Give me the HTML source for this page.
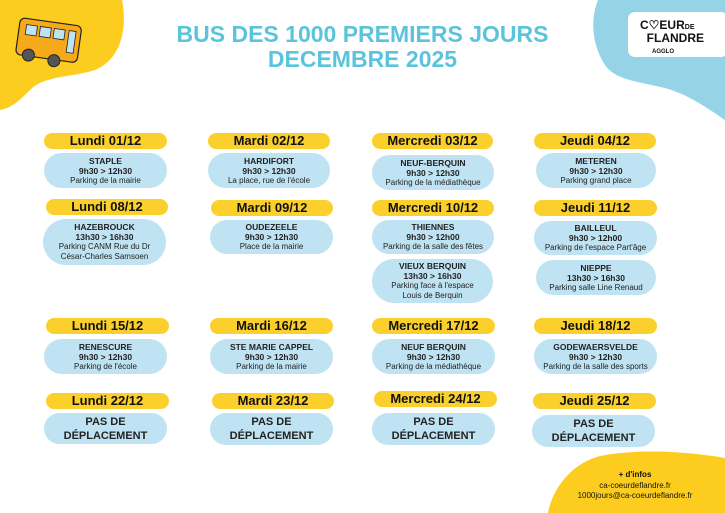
<!DOCTYPE html>
<html><head><meta charset="utf-8"><style>
body{margin:0;width:725px;height:513px;overflow:hidden;background:#fff;position:relative;font-family:"Liberation Sans",sans-serif;}
.a{position:absolute;}
.h{position:absolute;height:16px;background:#fcd02c;border-radius:8px;text-align:center;font-weight:bold;font-size:13px;line-height:16px;color:#111;}
.c{position:absolute;background:#bfe3f2;border-radius:18px;text-align:center;font-size:8px;line-height:10px;color:#222;display:flex;flex-direction:column;justify-content:center;}
.c b{font-size:8.5px;}
.p{font-weight:bold;font-size:11px;line-height:14px;}
</style></head><body>
<svg class="a" style="left:0;top:0" width="725" height="513">
<path d="M0,0 H122 C128,30 120,60 95,70 C70,78 45,75 30,90 C20,100 12,108 0,110 Z" fill="#fccd1f"/>
<path d="M598,0 H725 V120 C710,110 690,95 665,88 C640,82 615,80 605,65 C592,45 590,20 598,0 Z" fill="#95d3e6"/>
<path d="M725,458 C690,452 640,448 600,456 C570,464 552,490 548,513 H725 Z" fill="#fccd1f"/>
<rect x="628" y="12" width="100" height="45" rx="7" fill="#fff"/>
<g transform="rotate(8 50 45)">
<rect x="17" y="22" width="62" height="37" rx="5" fill="#f6a919" stroke="#222" stroke-width="1.2"/>
<rect x="24" y="28" width="11" height="10" fill="#bfe3f2" stroke="#222" stroke-width="0.8"/>
<rect x="38" y="28" width="11" height="10" fill="#bfe3f2" stroke="#222" stroke-width="0.8"/>
<rect x="52" y="28" width="11" height="10" fill="#bfe3f2" stroke="#222" stroke-width="0.8"/>
<rect x="67" y="28" width="7" height="22" fill="#bfe3f2" stroke="#222" stroke-width="0.8"/>
<circle cx="30" cy="58" r="6" fill="#555" stroke="#222"/><circle cx="56" cy="60" r="6" fill="#555" stroke="#222"/>
</g>
</svg>
<div class="a" style="left:0;top:22px;width:725px;text-align:center;color:#5bc4dc;font-weight:bold;font-size:23px;line-height:25px;">BUS DES 1000 PREMIERS JOURS<br>DECEMBRE 2025</div>
<div class="a" style="left:640px;top:20px;font-weight:bold;font-size:12px;line-height:11px;color:#111;">C♡EUR<span style="font-size:7px">DE</span><br>&nbsp;&nbsp;FLANDRE<br><span style="font-size:6px;margin-left:12px">AGGLO</span></div>

<div class="h" style="left:44px;top:133px;width:123px">Lundi 01/12</div>
<div class="c" style="left:44px;top:153px;width:123px;height:35px"><b>STAPLE</b><b>9h30 &gt; 12h30</b>Parking de la mairie</div>
<div class="h" style="left:208px;top:133px;width:122px">Mardi 02/12</div>
<div class="c" style="left:208px;top:153px;width:122px;height:35px"><b>HARDIFORT</b><b>9h30 &gt; 12h30</b>La place, rue de l'école</div>
<div class="h" style="left:372px;top:133px;width:121px">Mercredi 03/12</div>
<div class="c" style="left:372px;top:155px;width:122px;height:35px"><b>NEUF-BERQUIN</b><b>9h30 &gt; 12h30</b>Parking de la médiathèque</div>
<div class="h" style="left:534px;top:133px;width:122px">Jeudi 04/12</div>
<div class="c" style="left:536px;top:153px;width:120px;height:35px"><b>METEREN</b><b>9h30 &gt; 12h30</b>Parking grand place</div>

<div class="h" style="left:46px;top:199px;width:122px">Lundi 08/12</div>
<div class="c" style="left:43px;top:219px;width:123px;height:46px;border-radius:23px"><b>HAZEBROUCK</b><b>13h30 &gt; 16h30</b>Parking CANM Rue du Dr<br>César-Charles Samsoen</div>
<div class="h" style="left:211px;top:200px;width:122px">Mardi 09/12</div>
<div class="c" style="left:210px;top:220px;width:123px;height:34px"><b>OUDEZEELE</b><b>9h30 &gt; 12h30</b>Place de la mairie</div>
<div class="h" style="left:372px;top:200px;width:122px">Mercredi 10/12</div>
<div class="c" style="left:372px;top:220px;width:122px;height:34px"><b>THIENNES</b><b>9h30 &gt; 12h00</b>Parking de la salle des fêtes</div>
<div class="c" style="left:372px;top:259px;width:121px;height:44px;border-radius:22px"><b>VIEUX BERQUIN</b><b>13h30 &gt; 16h30</b>Parking face à l'espace<br>Louis de Berquin</div>
<div class="h" style="left:534px;top:200px;width:123px">Jeudi 11/12</div>
<div class="c" style="left:534px;top:221px;width:123px;height:34px"><b>BAILLEUL</b><b>9h30 &gt; 12h00</b>Parking de l'espace Part'âge</div>
<div class="c" style="left:536px;top:260px;width:120px;height:35px"><b>NIEPPE</b><b>13h30 &gt; 16h30</b>Parking salle Line Renaud</div>

<div class="h" style="left:46px;top:318px;width:123px">Lundi 15/12</div>
<div class="c" style="left:44px;top:339px;width:123px;height:35px"><b>RENESCURE</b><b>9h30 &gt; 12h30</b>Parking de l'école</div>
<div class="h" style="left:210px;top:318px;width:123px">Mardi 16/12</div>
<div class="c" style="left:210px;top:339px;width:123px;height:35px"><b>STE MARIE CAPPEL</b><b>9h30 &gt; 12h30</b>Parking de la mairie</div>
<div class="h" style="left:372px;top:318px;width:123px">Mercredi 17/12</div>
<div class="c" style="left:372px;top:339px;width:123px;height:35px"><b>NEUF BERQUIN</b><b>9h30 &gt; 12h30</b>Parking de la médiathèque</div>
<div class="h" style="left:534px;top:318px;width:123px">Jeudi 18/12</div>
<div class="c" style="left:534px;top:339px;width:123px;height:35px"><b>GODEWAERSVELDE</b><b>9h30 &gt; 12h30</b>Parking de la salle des sports</div>

<div class="h" style="left:46px;top:393px;width:123px">Lundi 22/12</div>
<div class="c p" style="left:44px;top:413px;width:123px;height:31px;border-radius:16px">PAS DE<br>DÉPLACEMENT</div>
<div class="h" style="left:212px;top:393px;width:122px">Mardi 23/12</div>
<div class="c p" style="left:210px;top:413px;width:123px;height:32px;border-radius:16px">PAS DE<br>DÉPLACEMENT</div>
<div class="h" style="left:374px;top:391px;width:123px">Mercredi 24/12</div>
<div class="c p" style="left:372px;top:413px;width:123px;height:32px;border-radius:16px">PAS DE<br>DÉPLACEMENT</div>
<div class="h" style="left:533px;top:393px;width:123px">Jeudi 25/12</div>
<div class="c p" style="left:532px;top:415px;width:123px;height:32px;border-radius:16px">PAS DE<br>DÉPLACEMENT</div>

<div class="a" style="left:560px;top:470px;width:150px;text-align:center;font-size:8px;line-height:10.5px;color:#111"><b>+ d'infos</b><br>ca-coeurdeflandre.fr<br>1000jours@ca-coeurdeflandre.fr</div>
</body></html>
